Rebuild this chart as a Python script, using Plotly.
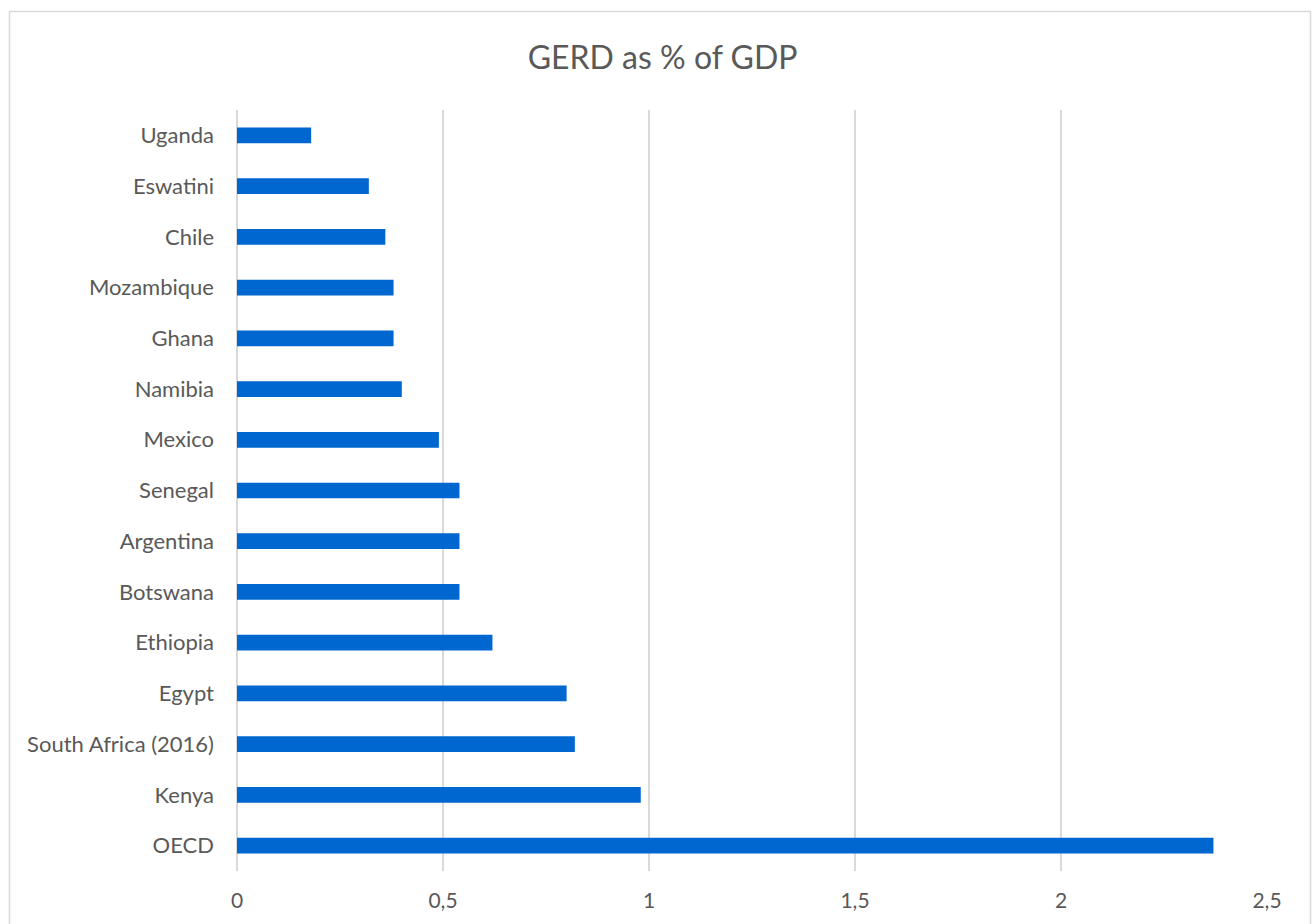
import plotly.graph_objects as go

# GERD as % of GDP by country, listed bottom to top
countries = ["OECD", "Kenya", "South Africa (2016)", "Egypt", "Ethiopia", "Botswana",
             "Argentina", "Senegal", "Mexico", "Namibia", "Ghana", "Mozambique",
             "Chile", "Eswatini", "Uganda"]
gerd_pct = [2.37, 0.98, 0.82, 0.80, 0.62, 0.54, 0.54, 0.54, 0.49, 0.40, 0.38, 0.38,
            0.36, 0.32, 0.18]
x_ticks = [0, 0.5, 1, 1.5, 2, 2.5]
x_tick_labels = ["0", "0,5", "1", "1,5", "2", "2,5"]

W, H = 1312, 924
L, R, T, B = 237, 45, 110, 53

fig = go.Figure(go.Bar(
    x=gerd_pct, y=countries, orientation="h",
    marker=dict(color="#0066D0", line=dict(width=0)),
    width=0.31,
))

pw = W - L - R
ph = H - T - B


def px_x(p):
    return (p - L) / pw


def px_y(p):
    return 1 - (p - T) / ph


fig.add_shape(type="rect", xref="paper", yref="paper",
              x0=px_x(9.5), x1=px_x(1310.5), y0=px_y(940), y1=px_y(11.5),
              line=dict(color="#d9d9d9", width=1.5), fillcolor="rgba(0,0,0,0)",
              layer="below")

fig.update_layout(
    width=W, height=H,
    margin=dict(l=L, r=R, t=T, b=B, autoexpand=False),
    paper_bgcolor="white", plot_bgcolor="white",
    font=dict(family="Lato, Open Sans, sans-serif", color="#595959", size=22),
    title=dict(text="GERD as % of GDP", x=0.505, xanchor="center", xref="container",
               y=1 - 58 / H, yanchor="middle", yref="container",
               font=dict(size=32, color="#595959")),
    showlegend=False,
)
fig.update_xaxes(range=[0, 2.5], tickvals=x_ticks, ticktext=x_tick_labels,
                 showgrid=True, gridcolor="#d9d9d9", gridwidth=1.5,
                 zeroline=True, zerolinecolor="#d9d9d9", zerolinewidth=1.5,
                 showline=False, ticks="", ticklabelstandoff=15, automargin=False,
                 tickfont=dict(size=21, color="#595959"))
fig.update_yaxes(categoryorder="array", categoryarray=countries,
                 showgrid=False, showline=False, ticks="", automargin=False,
                 ticklabelstandoff=22,
                 tickfont=dict(size=22, color="#595959"))

fig.write_html("out.html")
